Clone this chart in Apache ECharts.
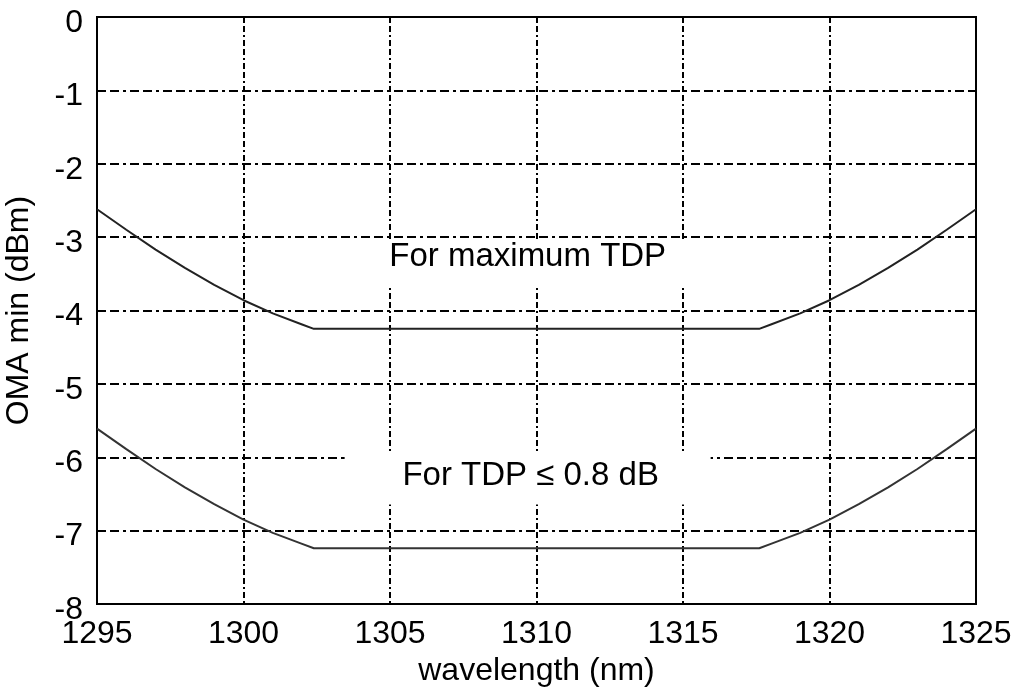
<!DOCTYPE html>
<html>
<head>
<meta charset="utf-8">
<script src="https://cdn.jsdelivr.net/npm/echarts@6/dist/echarts.min.js"></script>
<style>html,body{margin:0;padding:0;background:#fff}#c{width:1013px;height:690px}</style>
</head>
<body>
<div id="c"></div>
<script>
var xTicks = [1295, 1300, 1305, 1310, 1315, 1320, 1325];
var yTicks = [0, -1, -2, -3, -4, -5, -6, -7, -8];
var wavelength = [1295, 1296, 1297, 1298, 1299, 1300, 1301, 1302, 1302.4, 1317.6, 1318, 1319, 1320, 1321, 1322, 1323, 1324, 1325];
var omaMaxTDP = [-2.62, -2.90, -3.17, -3.42, -3.65, -3.86, -4.04, -4.19, -4.25, -4.25, -4.19, -4.04, -3.86, -3.65, -3.42, -3.17, -2.90, -2.62];
var omaTDP08 = [-5.61, -5.89, -6.16, -6.41, -6.64, -6.85, -7.03, -7.18, -7.24, -7.24, -7.18, -7.03, -6.85, -6.64, -6.41, -6.16, -5.89, -5.61];
var labelTexts = ['For maximum TDP', 'For TDP \u2264 0.8 dB'];
var labelPos = [[1309.7, -3.27], [1309.8, -6.25]];

function pairs(xs, ys) { return xs.map(function (x, i) { return [x, ys[i]]; }); }

var font = '"Liberation Sans", Arial, sans-serif';
// white mask boxes around the labels: [left, top, right, bottom] offsets from text centre (px)
var maskBoxes = [[-186, -18, 186, 30], [-186, -23, 180, 29]];

var chart = echarts.init(document.getElementById('c'));
chart.setOption({
  animation: false,
  backgroundColor: '#fff',
  grid: { left: 97, right: 37, top: 17, bottom: 86, outerBoundsMode: 'none', containLabel: false,
    show: true, borderColor: '#000', borderWidth: 2, backgroundColor: 'transparent' },
  xAxis: {
    type: 'value', min: xTicks[0], max: xTicks[xTicks.length - 1], interval: 5,
    name: 'wavelength (nm)', nameLocation: 'middle', nameGap: 50,
    nameTextStyle: { fontFamily: font, fontSize: 32, color: '#000' },
    axisLine: { show: true, lineStyle: { color: '#000', width: 2 } },
    axisTick: { show: false },
    axisLabel: { fontFamily: font, fontSize: 32, color: '#000', margin: 14,
      formatter: function (v) { return String(v); } },
    splitLine: { show: true, lineStyle: { color: '#000', width: 2, type: [6, 3, 6, 3, 2, 3] } }
  },
  yAxis: {
    type: 'value', min: yTicks[yTicks.length - 1], max: yTicks[0], interval: 1,
    name: 'OMA min (dBm)', nameLocation: 'middle', nameGap: 62, nameRotate: 90,
    nameTextStyle: { fontFamily: font, fontSize: 32, color: '#000' },
    axisLine: { show: true, lineStyle: { color: '#000', width: 2 } },
    axisTick: { show: false },
    axisLabel: { fontFamily: font, fontSize: 32, color: '#000', margin: 14,
      formatter: function (v) { return '{a|' + v + '}'; },
      rich: { a: { fontFamily: font, fontSize: 32, color: '#000', padding: [12, 0, 0, 0] } } },
    splitLine: { show: true, lineStyle: { color: '#000', width: 2, type: [9, 4, 9, 4, 3, 4] } }
  },
  series: [
    { type: 'line', data: pairs(wavelength, omaMaxTDP), showSymbol: false, smooth: false,
      lineStyle: { color: '#222', width: 2 }, z: 3 },
    { type: 'line', data: pairs(wavelength, omaTDP08), showSymbol: false, smooth: false,
      lineStyle: { color: '#333', width: 2 }, z: 3 }
  ]
});

var elements = [];
labelPos.forEach(function (p, i) {
  var px = chart.convertToPixel({ gridIndex: 0 }, p);
  var b = maskBoxes[i];
  elements.push({
    type: 'rect', z: 9, silent: true,
    shape: { x: px[0] + b[0], y: px[1] + b[1], width: b[2] - b[0], height: b[3] - b[1] },
    style: { fill: '#fff' }
  });
  elements.push({
    type: 'text', x: px[0], y: px[1], z: 10, silent: true,
    style: { text: labelTexts[i], fontFamily: font, fontSize: 33, fill: '#000',
      align: 'center', verticalAlign: 'middle' }
  });
});
chart.setOption({ graphic: elements });
</script>
</body>
</html>
